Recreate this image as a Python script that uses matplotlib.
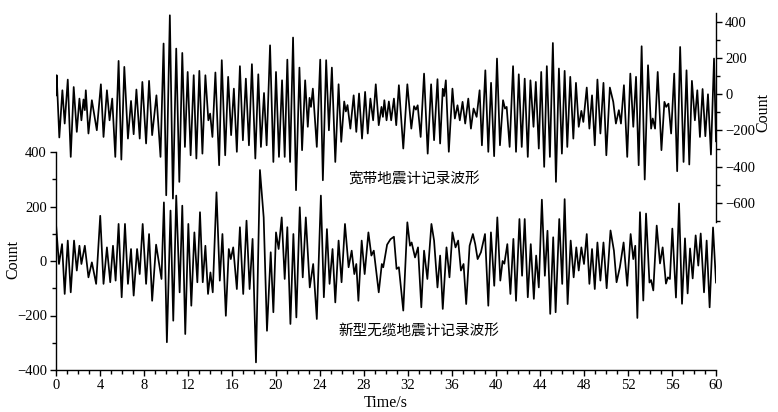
import matplotlib
matplotlib.use("Agg")
import matplotlib.pyplot as plt
from matplotlib.ticker import MultipleLocator

plt.rcParams['font.family'] = ['Liberation Serif', 'Noto Sans CJK SC', 'DejaVu Sans']

# ---- top trace: broadband seismometer (right axis) ----
top_t = [0.00, 0.06, 0.30, 0.58, 0.79, 1.07, 1.34, 1.61, 1.89, 2.13, 2.31, 2.50, 2.62, 2.71, 2.95,
         3.26, 3.71, 4.08, 4.32, 4.63, 4.87, 5.11, 5.39, 5.69, 5.94, 6.21, 6.54, 6.82, 7.06, 7.31,
         7.61, 7.85, 8.19, 8.46, 8.74, 9.13, 9.50, 9.78, 10.02, 10.35, 10.63, 10.93, 11.21, 11.48,
         11.72, 11.97, 12.24, 12.52, 12.76, 13.03, 13.31, 13.58, 13.85, 14.01, 14.22, 14.49, 14.83,
         15.07, 15.38, 15.65, 15.92, 16.17, 16.44, 16.72, 16.99, 17.26, 17.54, 17.81, 18.12, 18.39,
         18.63, 18.91, 19.15, 19.46, 19.76, 20.00, 20.27, 20.55, 20.79, 21.03, 21.28, 21.55, 21.82,
         22.13, 22.37, 22.65, 22.89, 23.05, 23.18, 23.35, 23.71, 24.02, 24.26, 24.56, 24.81, 25.08,
         25.39, 25.69, 25.93, 26.20, 26.35, 26.50, 26.76, 27.06, 27.30, 27.55, 27.82, 28.10, 28.34,
         28.58, 28.83, 29.07, 29.34, 29.59, 29.72, 29.85, 30.05, 30.26, 30.47, 30.72, 30.93, 31.17,
         31.57, 31.94, 32.30, 32.55, 32.72, 32.88, 33.15, 33.46, 33.79, 34.10, 34.37, 34.68, 34.92,
         35.16, 35.28, 35.44, 35.71, 36.04, 36.26, 36.50, 36.71, 36.96, 37.20, 37.48, 37.72, 37.96,
         38.24, 38.51, 38.72, 39.03, 39.30, 39.55, 39.83, 40.09, 40.36, 40.64, 40.82, 40.97, 41.24,
         41.55, 41.82, 42.07, 42.34, 42.61, 42.89, 43.13, 43.41, 43.62, 43.89, 44.11, 44.38, 44.62,
         44.90, 45.17, 45.45, 45.72, 45.99, 46.24, 46.48, 46.75, 47.03, 47.27, 47.52, 47.76, 47.94,
         48.25, 48.49, 48.73, 48.98, 49.22, 49.49, 49.77, 50.03, 50.35, 50.66, 50.90, 51.17, 51.36,
         51.63, 51.93, 52.21, 52.48, 52.73, 52.97, 53.24, 53.52, 53.82, 54.10, 54.25, 54.46, 54.70,
         55.04, 55.31, 55.47, 55.68, 55.92, 56.20, 56.47, 56.74, 57.05, 57.32, 57.57, 57.81, 58.08,
         58.30, 58.54, 58.78, 59.03, 59.27, 59.54, 59.82, 60.00]
top_v = [-6, 105, -239, 22, -162, 81, -346, 40, -208, -24, -144, -29, -88, 22, -217,
         -33, -199, 55, -236, 22, -144, -24, -346, 184, -361, 151, -245, -37, -221, 26,
         -245, 68, -272, 74, -226, -6, -346, 280, -558, 436, -576, 252, -484, 228,
         -291, 123, -337, 105, -355, 129, -328, 105, -144, -107, -236, 120, -392,
         188, -337, 96, -226, 31, -318, 155, -254, 86, -282, 166, -355, 110,
         -291, 7, -282, 270, -374, 123, -346, 77, -346, 191, -374, 313, -530,
         147, -309, 77, -180, -20, -70, 31, -291, 191, -475, 188, -199, 147,
         -374, 55, -263, -40, -95, -60, -190, -6, -208, 4, -245, 13, -217,
         -24, -144, 55, -171, -70, -125, -33, -144, -40, -144, -24, -171, 50,
         -300, 55, -190, -66, -85, -61, -236, 114, -328, 55, -254, 83, -272,
         30, -10, 77, -318, 31, -134, -61, -144, -42, -162, -24, -190, -79,
         -125, 22, -282, 132, -318, 63, -342, 197, -282, -33, -79, -70, -291,
         155, -318, 110, -291, 86, -346, 77, -180, 68, -300, 123, -401, 155,
         -346, 283, -484, 142, -328, 129, -291, 96, -245, 63, -180, -92, -153,
         37, -190, -6, -282, 81, -217, 63, -337, 37, -42, -162, -88, -162,
         50, -346, 114, -180, 96, -392, 265, -471, 160, -190, -134, -190, 123,
         -309, -42, -70, -52, -217, 114, -425, 261, -374, 132, -388, 74, -144,
         22, -236, 29, -232, 0, -333, 197, -260]

# ---- bottom trace: new cable-free seismometer (left axis) ----
bot_t = [0.00, 0.27, 0.55, 0.79, 1.07, 1.34, 1.64, 1.89, 2.13, 2.31, 2.62, 2.95, 3.26, 3.65, 4.02,
         4.32, 4.63, 4.93, 5.18, 5.42, 5.69, 5.97, 6.27, 6.54, 6.82, 7.06, 7.37, 7.61, 7.88, 8.19,
         8.46, 8.74, 9.10, 9.59, 9.81, 10.08, 10.41, 10.66, 10.93, 11.24, 11.48, 11.75, 12.03,
         12.30, 12.58, 12.85, 13.09, 13.34, 13.58, 13.82, 14.04, 14.25, 14.59, 14.89, 15.13, 15.44,
         15.71, 15.89, 16.11, 16.44, 16.72, 17.02, 17.32, 17.60, 17.87, 18.18, 18.54, 18.88, 19.18,
         19.52, 19.76, 20.00, 20.24, 20.52, 20.79, 21.03, 21.31, 21.58, 21.85, 22.16, 22.43, 22.71,
         23.07, 23.38, 23.71, 24.08, 24.35, 24.63, 24.87, 25.14, 25.39, 25.69, 25.96, 26.27, 26.60,
         26.88, 27.12, 27.30, 27.49, 27.79, 28.06, 28.40, 28.67, 28.89, 29.34, 29.62, 29.75, 30.10,
         30.41, 30.72, 30.96, 31.17, 31.57, 31.94, 32.18, 32.33, 32.64, 32.91, 33.21, 33.46, 33.76,
         34.13, 34.37, 34.68, 34.92, 35.16, 35.50, 35.77, 36.04, 36.32, 36.56, 36.81, 37.05, 37.29,
         37.60, 37.90, 38.11, 38.33, 38.63, 39.00, 39.30, 39.54, 39.84, 40.12, 40.39, 40.60, 40.76,
         41.03, 41.31, 41.58, 41.82, 42.13, 42.37, 42.61, 42.89, 43.16, 43.44, 43.65, 43.89, 44.17,
         44.44, 44.68, 44.93, 45.20, 45.42, 45.75, 46.02, 46.24, 46.51, 46.79, 47.06, 47.30, 47.52,
         47.76, 48.00, 48.25, 48.49, 48.73, 48.98, 49.22, 49.49, 49.77, 50.06, 50.41, 50.72, 50.96,
         51.26, 51.60, 51.93, 52.24, 52.48, 52.66, 52.85, 53.09, 53.39, 53.64, 53.95, 54.10, 54.30,
         54.61, 54.91, 55.15, 55.45, 55.63, 55.81, 56.03, 56.36, 56.64, 56.91, 57.18, 57.42, 57.64,
         57.88, 58.15, 58.39, 58.61, 58.91, 59.15, 59.42, 59.73, 60.00]
bot_v = [136, -11, 62, -121, 75, -115, 75, -35, 56, -11, 56, -60, -5, -84, 166,
         -84, 50, -78, 56, -72, 136, -133, 136, -84, 44, -127, 44, -48, 136, -84,
         99, -146, 60, -66, 215, -298, 185, -219, 240, -115, 203, -268, 136,
         -164, 105, -78, 179, -78, 56, -121, -42, -115, 252, -72, 99, -201,
         44, 7, 50, -103, 124, -121, 148, -103, 81, -372, 334, 160, -256,
         32, -188, 105, 44, 160, -66, 124, -231, 99, -207, 197, -60, 160,
         -97, -11, -213, 240, -133, 117, -84, 44, -152, 75, -78, 136, -23,
         38, -48, -11, -146, 75, -48, 105, 20, 38, -115, -11, -23, 60,
         80, 89, -29, -23, -182, 142, 56, 68, 13, 50, -170, 38, -66,
         136, 75, -97, 20, -176, 50, -60, 105, 50, 75, -35, -11, -158,
         56, 99, 62, 7, 32, 99, -164, 105, -91, 160, -72, 0, -10,
         62, -121, 81, -146, 154, -54, 154, -133, 62, -139, 20, -97, 225,
         -54, 111, -194, 87, -188, 154, -84, 227, -158, 75, -60, 50, -35,
         50, -11, 99, -84, 44, -103, 68, -72, 68, -100, 112, 38, -78,
         -23, 68, -91, 99, 7, 56, -209, 179, -145, 174, -79, -70, -108,
         130, -9, 50, -83, -60, -66, 119, -134, 211, -157, 83, -119, 46,
         -64, 94, -17, 101, -115, 75, -170, 123, -79]

x_major = list(range(0, 61, 4))
left_ticks = [-400, -200, 0, 200, 400]
right_ticks = [-600, -400, -200, 0, 200, 400]

W, H = 778, 412
fig = plt.figure(figsize=(W / 100, H / 100), dpi=100)

def frac(x0, y0, x1, y1):
    return [x0 / W, 1 - y1 / H, (x1 - x0) / W, (y1 - y0) / H]

ax = fig.add_axes(frac(56, 152, 716, 370))
axt = fig.add_axes(frac(56, 13.3, 716, 221.7))
axt.patch.set_alpha(0)

lw = 1.25
ax.plot(bot_t, bot_v, color='black', lw=lw, solid_joinstyle='round')
axt.plot(top_t, top_v, color='black', lw=lw, solid_joinstyle='round')

# bottom axes
ax.set_xlim(0, 60)
ax.set_ylim(-400, 400)
ax.set_xticks(x_major)
ax.xaxis.set_minor_locator(MultipleLocator(1))
ax.set_yticks(left_ticks)
ax.yaxis.set_minor_locator(MultipleLocator(100))
for s in ['top', 'right']:
    ax.spines[s].set_visible(False)
for s in ['left', 'bottom']:
    ax.spines[s].set_linewidth(1.0)
ax.tick_params(which='major', direction='out', length=4.5, width=1.0, labelsize=10.5, pad=2)
ax.tick_params(which='minor', direction='out', length=3, width=1.0)
ax.set_xlabel('Time/s', fontsize=11.5)
ax.xaxis.set_label_coords(0.5, -0.152)
ax.xaxis.label.set_va('center')
ax.set_ylabel('Count', fontsize=11.5)
ax.yaxis.set_label_coords(-0.065, 0.505)
ax.yaxis.label.set_va('center')

# top axes (right axis only)
axt.set_xlim(0, 60)
axt.set_ylim(-704, 447)
for s in ['top', 'left', 'bottom']:
    axt.spines[s].set_visible(False)
axt.spines['right'].set_linewidth(1.0)
axt.set_xticks([])
axt.yaxis.tick_right()
axt.yaxis.set_label_position('right')
axt.set_yticks(right_ticks)
axt.yaxis.set_minor_locator(MultipleLocator(100))
axt.tick_params(which='major', direction='out', length=4.5, width=1.0, labelsize=10.5, pad=2)
axt.tick_params(which='minor', direction='out', length=3, width=1.0)
axt.set_ylabel('Count', fontsize=11.5)
axt.yaxis.set_label_coords(1.072, 0.526)
axt.yaxis.label.set_va('center')

cjk = ['Noto Sans CJK SC', 'DejaVu Sans']
fig.text(414 / W, 1 - 180 / H, '宽带地震计记录波形', family=cjk, fontsize=10.5,
         ha='center', va='center')
fig.text(419 / W, 1 - 332 / H, '新型无缆地震计记录波形', family=cjk, fontsize=10.5,
         ha='center', va='center')

fig.savefig('out.png', dpi=100)
